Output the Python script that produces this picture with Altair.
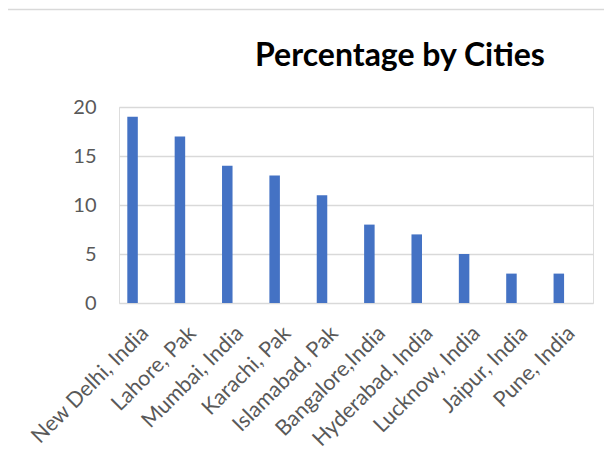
import altair as alt
import pandas as pd

cities = ["New Delhi, India", "Lahore, Pak", "Mumbai, India", "Karachi, Pak",
          "Islamabad, Pak", "Bangalore,India", "Hyderabad, India", "Lucknow, India",
          "Jaipur, India", "Pune, India"]
percentages = [19, 17, 14, 13, 11, 8, 7, 5, 3, 3]

df = pd.DataFrame({"City": cities, "Percentage": percentages})

FONT = "Lato"
LABEL_COLOR = "#595959"

bars = alt.Chart(df).mark_bar(color="#4472C4").encode(
    x=alt.X("City:N", sort=None, title=None,
            scale=alt.Scale(paddingInner=0.778, paddingOuter=0.393, align=0.223),
            axis=alt.Axis(labelAngle=-45, labelAlign="right", labelBaseline="middle",
                          labelOffset=13, labelPadding=27, ticks=False, tickSize=0,
                          domain=False, labelFontSize=21.5, labelColor=LABEL_COLOR,
                          labelFont=FONT, grid=False)),
    y=alt.Y("Percentage:Q", title=None,
            scale=alt.Scale(domain=[0, 20]),
            axis=alt.Axis(values=[0, 5, 10, 15, 20], ticks=False, tickSize=0,
                          domain=False, labelPadding=23, labelFontSize=20,
                          labelColor=LABEL_COLOR, labelFont=FONT,
                          grid=True, gridColor="#D9D9D9", gridWidth=1.3)),
)

frame = alt.Chart(alt.Data(values=[{}])).mark_rule(color="#D9D9D9", strokeWidth=1.3, clip=False)
left_border = frame.encode(x=alt.value(-112), y=alt.value(-97.5), y2=alt.value(363))
top_border = frame.encode(x=alt.value(-112), x2=alt.value(493), y=alt.value(-97.5))

chart = alt.layer(bars, left_border, top_border).properties(
    width=474, height=196,
    title=alt.Title("Percentage by Cities", font=FONT, fontSize=32, fontWeight="bold",
                    color="#000000", anchor="middle", frame="group", dx=44,
                    baseline="alphabetic", offset=-89),
    autosize=alt.AutoSizeParams(type="none"),
    padding={"left": 111, "top": 99, "right": 11, "bottom": 159},
).configure_view(stroke=None).configure(background="white")

chart.save("out.html", embed_options={"renderer": "svg", "actions": False})
